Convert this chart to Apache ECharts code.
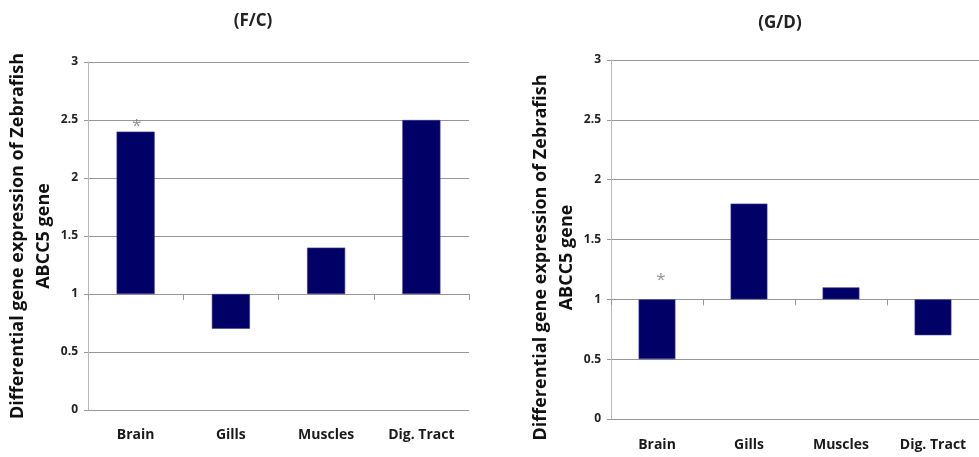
<!DOCTYPE html>
<html>
<head>
<meta charset="utf-8">
<script src="https://cdn.jsdelivr.net/npm/echarts@6/dist/echarts.min.js"></script>
<style>
  html, body { margin: 0; padding: 0; background: #fff; }
  #chart { width: 979px; height: 457px; }
</style>
</head>
<body>
<div id="chart"></div>
<script>
// Tissues and fold-change values of ABCC5 expression (1 = no change)
const tissues = ['Brain', 'Gills', 'Muscles', 'Dig. Tract'];
const ratioFC = [2.4, 0.7, 1.4, 2.5];
const ratioGD = [0.5, 1.8, 1.1, 0.7];
// Significance marks: tissue and the height where the asterisk sits
const starFC = ['Brain', 2.5];
const starGD = ['Brain', 1.21];
const panelTitles = ['(F/C)', '(G/D)'];
const yTitle = 'Differential gene expression of Zebrafish\nABCC5 gene';

// Bars grow up or down from the reference level 1, so the value axis is
// measured relative to 1 and its labels add the reference back.
const BASE = 1;
const rel = v => +(v - BASE).toFixed(4);
const fmt = v => String(Math.round((v + BASE) * 10) / 10);

const FONT = 'Open Sans';
const BAR = '#000066';

function yAxisFor(gridIndex, gap, pad) {
  return {
    gridIndex, type: 'value', min: -1, max: 2, interval: 0.5,
    axisLine: { show: true, lineStyle: { color: '#b8b8b8', width: 1 } },
    axisTick: { show: true, length: 4, lineStyle: { color: '#999' } },
    axisLabel: { formatter: fmt, color: '#222', fontFamily: FONT, fontWeight: 'bold', fontSize: 12, margin: 10 },
    splitLine: { show: true, lineStyle: { color: '#979797', width: 1 } },
    name: yTitle, nameLocation: 'middle', nameRotate: 90, nameGap: gap,
    nameTextStyle: { fontFamily: FONT, fontWeight: 'bold', fontSize: 18, color: '#111',
                     lineHeight: 26, padding: pad }
  };
}
function crossAxis(gridIndex) {
  // category axis crossing the value axis at the reference level
  return {
    gridIndex, type: 'category', data: tissues,
    axisLine: { show: true, onZero: true, lineStyle: { color: '#979797' } },
    axisTick: { show: true, length: 6, lineStyle: { color: '#999' } },
    axisLabel: { show: false }, splitLine: { show: false }
  };
}
function labelAxis(gridIndex, margin) {
  return {
    gridIndex, type: 'category', data: tissues, position: 'bottom',
    axisLine: { show: false, onZero: false }, axisTick: { show: false },
    axisLabel: { color: '#1a1a1a', fontFamily: FONT, fontWeight: 'bold', fontSize: 14, margin }
  };
}
function bars(idx, values) {
  return {
    type: 'bar', xAxisIndex: idx * 2, yAxisIndex: idx,
    data: values.map(rel), barCategoryGap: '60%',
    itemStyle: { color: BAR, borderColor: '#3a3a9a', borderWidth: 0.6 },
    silent: true
  };
}
function star(idx, mark, dx) {
  return {
    type: 'scatter', xAxisIndex: idx * 2, yAxisIndex: idx,
    data: [[mark[0], rel(mark[1])]], symbolSize: 0, silent: true,
    label: { show: true, position: 'inside', formatter: '*', color: '#777',
             fontFamily: FONT, fontSize: 17, offset: [dx, 6] }
  };
}

const chart = echarts.init(document.getElementById('chart'), null, { renderer: 'canvas' });
chart.setOption({
  animation: false,
  backgroundColor: '#fff',
  title: [
    { text: panelTitles[0], left: 248, top: 8, textAlign: 'center',
      textStyle: { fontFamily: FONT, fontWeight: 'bold', fontSize: 17, color: '#222' } },
    { text: panelTitles[1], left: 775, top: 10, textAlign: 'center',
      textStyle: { fontFamily: FONT, fontWeight: 'bold', fontSize: 17, color: '#222' } }
  ],
  grid: [
    { left: 88, right: 510, top: 62, bottom: 47 },
    { left: 611, right: -11, top: 60, bottom: 38 }
  ],
  xAxis: [crossAxis(0), labelAxis(0, 18), crossAxis(1), labelAxis(1, 19)],
  yAxis: [yAxisFor(0, 29, [0, 0, 0, 0]), yAxisFor(1, 28, [0, 36, 0, 0])],
  series: [bars(0, ratioFC), bars(1, ratioGD), star(0, starFC, 1), star(1, starGD, 4)]
});
</script>
</body>
</html>
